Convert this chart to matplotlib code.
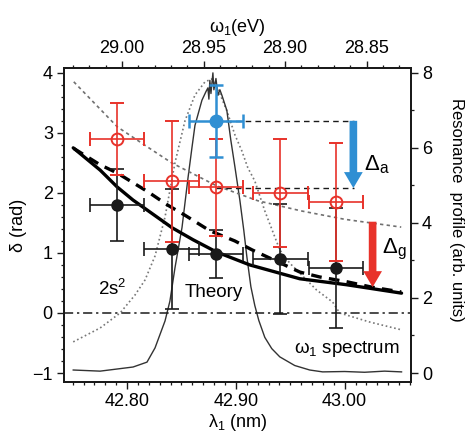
import matplotlib
matplotlib.use("Agg")
import matplotlib.pyplot as plt
from matplotlib.ticker import MultipleLocator, FormatStrFormatter
from matplotlib.patches import FancyArrowPatch

plt.rcParams['font.family'] = ['Liberation Sans', 'DejaVu Sans']
plt.rcParams['mathtext.fontset'] = 'custom'
plt.rcParams['mathtext.rm'] = 'Liberation Sans'
plt.rcParams['mathtext.it'] = 'Liberation Sans:italic'
plt.rcParams['mathtext.bf'] = 'Liberation Sans:bold'

# ---------------- data ----------------
lam_pts = [42.791, 42.841, 42.882, 42.941, 42.992]
lam_err = [0.025, 0.025, 0.025, 0.025, 0.025]

black_delta = [1.80, 1.07, 0.98, 0.90, 0.75]
black_err = [0.60, 1.00, 0.40, 0.92, 1.00]

red_delta = [2.90, 2.19, 2.09, 2.00, 1.85]
red_err = [0.60, 1.00, 0.80, 0.90, 0.98]

blue_lam = [42.882]
blue_delta = [3.20]
blue_lam_err = [0.025]
blue_err = [0.60]

# theory curves (delta, rad)
theory_solid_lam = [42.7505, 42.7752, 42.7908, 42.8055, 42.8211, 42.8413, 42.8606,
                    42.8817, 42.9128, 42.9587, 43.0018, 43.0523]
theory_solid = [2.75, 2.38, 2.10, 1.88, 1.68, 1.42, 1.22, 1.02, 0.80, 0.57, 0.47, 0.33]

theory_dash_lam = [42.751, 42.775, 42.791, 42.819, 42.837, 42.853, 42.876, 42.899,
                   42.915, 42.959, 42.977, 43.002, 43.025, 43.052]
theory_dash = [2.74, 2.47, 2.33, 2.02, 1.80, 1.63, 1.37, 1.20, 1.05, 0.68, 0.60,
               0.52, 0.43, 0.35]

upper_lam = [42.751, 42.791, 42.820, 42.841, 42.882, 42.920, 42.960, 43.000, 43.052]
upper_delta = [3.85, 3.10, 2.75, 2.50, 2.12, 1.87, 1.70, 1.56, 1.43]

# resonance profiles (arb. units, right axis)
s2_lam = [42.7505, 42.7752, 42.7936, 42.8073, 42.8165, 42.8257, 42.8349, 42.8440,
          42.8532, 42.8624, 42.8716, 42.8780, 42.8853, 42.8917, 42.8991, 42.9055,
          42.9110, 42.9174, 42.9266, 42.9404, 42.9495, 42.9743, 42.9890, 42.9954,
          43.0229, 43.0523]
s2_prof = [0.83, 1.20, 1.60, 2.08, 2.48, 3.12, 4.16, 5.60, 6.72, 7.41, 7.76, 7.84,
           7.44, 6.99, 6.35, 5.92, 5.47, 5.12, 4.32, 3.28, 2.93, 2.21, 1.89, 1.60,
           1.36, 1.15]

spec_lam = [42.7505, 42.7752, 42.8055, 42.8183, 42.8257, 42.8349, 42.8394, 42.8440,
            42.8505, 42.8560, 42.8596, 42.8624, 42.8688, 42.8725, 42.8743, 42.8752,
            42.8761, 42.8771, 42.8789, 42.8798, 42.8817, 42.8835, 42.8853, 42.8872,
            42.8917, 42.8954, 42.8991, 42.9037, 42.9073, 42.9101, 42.9138, 42.9174,
            42.9211, 42.9266, 42.9330, 42.9404, 42.9541, 42.9679, 42.9798, 43.0000,
            43.0183, 43.0367, 43.0523]
spec_prof = [0.08, 0.05, 0.16, 0.29, 0.67, 1.39, 1.92, 2.80, 3.88, 5.20, 6.00, 6.60,
             7.27, 7.50, 7.60, 7.30, 7.80, 7.45, 8.00, 7.55, 7.85, 7.40, 7.55, 7.40,
             7.00, 6.20, 5.50, 4.60, 3.80, 3.10, 2.30, 1.80, 1.40, 0.95, 0.65, 0.43,
             0.20, 0.08, 0.03, 0.04, 0.02, 0.05, 0.03]

# arrows / guide lines
guide_lam = [42.882, 43.009]
guide_upper = 3.20
guide_lower = 2.08
arrow_a_lam = 43.008
arrow_a = (3.20, 2.08)
arrow_g_lam = 43.0257
arrow_g = (1.52, 0.43)

bottom_ticks = [42.80, 42.90, 43.00]
top_ticks = [29.00, 28.95, 28.90, 28.85]

RED = '#e8322a'
BLUE = '#2f8fd3'
BLK = '#1a1a1a'

# ---------------- figure ----------------
fig = plt.figure(figsize=(4.65, 4.32), dpi=100)
ax = fig.add_axes([0.1376, 0.1157, 0.7463, 0.7269])
ax2 = ax.twinx()
ax3 = ax.twiny()
ax2.set_zorder(1)
ax3.set_zorder(2)
ax.set_zorder(3)
ax.patch.set_visible(False)
ax3.patch.set_visible(False)

ax.set_xlim(42.742, 43.061)
ax.set_ylim(-1.15, 4.08)
ax2.set_ylim(-0.24, 8.13)
ax3.set_xlim(29.0356, 28.8227)

# right-axis profiles
ax2.plot(s2_lam, s2_prof, color='#777777', lw=1.2, ls=(0, (1, 1.6)))
ax2.plot(spec_lam, spec_prof, color='#333333', lw=1.0)

# reference lines
ax.axhline(0, color=BLK, lw=1.1, ls=(0, (6, 2.5, 1.5, 2.5)))
ax.plot(upper_lam, upper_delta, color='#707070', lw=1.2, ls=(0, (2, 2)))
ax.plot(guide_lam, [guide_upper, guide_upper], color=BLK, lw=1.0, ls=(0, (4, 3)))
ax.plot(guide_lam, [guide_lower, guide_lower], color=BLK, lw=1.0, ls=(0, (4, 3)))

# theory
ax.plot(theory_solid_lam, theory_solid, color='black', lw=2.4, solid_capstyle='round')
ax.plot(theory_dash_lam, theory_dash, color='black', lw=2.4, ls=(0, (3.2, 2.2)))

# data points
ax.errorbar(lam_pts, black_delta, xerr=lam_err, yerr=black_err, fmt='o', color=BLK,
            ms=8, elinewidth=1.2, capsize=5, capthick=1.2, zorder=5)
ax.errorbar(lam_pts, red_delta, xerr=lam_err, yerr=red_err, fmt='o', color=RED,
            mfc='none', mec=RED, mew=1.4, ms=8.5, elinewidth=1.2, capsize=5,
            capthick=1.2, zorder=6)
ax.errorbar(blue_lam, blue_delta, xerr=blue_lam_err, yerr=blue_err, fmt='o', color=BLUE,
            ms=9, elinewidth=1.8, capsize=5, capthick=1.8, zorder=7)

# arrows
for xl, (y0, y1), col in [(arrow_a_lam, arrow_a, BLUE), (arrow_g_lam, arrow_g, RED)]:
    ar = FancyArrowPatch((xl, y0), (xl, y1),
                         arrowstyle='simple,tail_width=0.55,head_width=1.35,head_length=1.15',
                         mutation_scale=10, color=col, lw=0, zorder=8,
                         shrinkA=0, shrinkB=0)
    ax.add_patch(ar)

ax.text(43.018, 2.47, 'Δ$_{\\rm a}$', fontsize=16, ha='left', va='center')
ax.text(43.034, 1.05, 'Δ$_{\\rm g}$', fontsize=16, ha='left', va='center')
ax.text(42.7734, 0.30, '2s$^2$', fontsize=13.5, ha='left', va='baseline')
ax.text(42.853, 0.27, 'Theory', fontsize=13.5, ha='left', va='baseline')
ax.text(43.051, -0.67, 'ω$_1$ spectrum', fontsize=13.5, ha='right', va='baseline')

# ticks
ax.set_xticks(bottom_ticks)
ax.xaxis.set_major_formatter(FormatStrFormatter('%.2f'))
ax.xaxis.set_minor_locator(MultipleLocator(0.01))
ax.set_yticks([-1, 0, 1, 2, 3, 4])
ax.yaxis.set_minor_locator(MultipleLocator(0.2))
ax2.set_yticks([0, 2, 4, 6, 8])
ax2.yaxis.set_minor_locator(MultipleLocator(1))
ax3.set_xticks(top_ticks)
ax3.xaxis.set_major_formatter(FormatStrFormatter('%.2f'))
ax3.xaxis.set_minor_locator(MultipleLocator(0.01))

for a in (ax, ax2, ax3):
    a.tick_params(which='major', direction='out', length=5, width=1.0, labelsize=13,
                  color=BLK, pad=3)
    a.tick_params(which='minor', direction='out', length=2.5, width=0.9, color=BLK)
    for s in a.spines.values():
        s.set_linewidth(1.2)
        s.set_color(BLK)

ax.set_xlabel('λ$_1$ (nm)', fontsize=13, labelpad=1)
ax.set_ylabel('δ (rad)', fontsize=13, labelpad=4)
ax3.set_xlabel('ω$_1$(eV)', fontsize=13, labelpad=6)
fig.text(0.982, 0.515, 'Resonance  profile (arb. units)', rotation=270, fontsize=12,
         ha='center', va='center')

fig.savefig('out.png', dpi=100, facecolor='white')
